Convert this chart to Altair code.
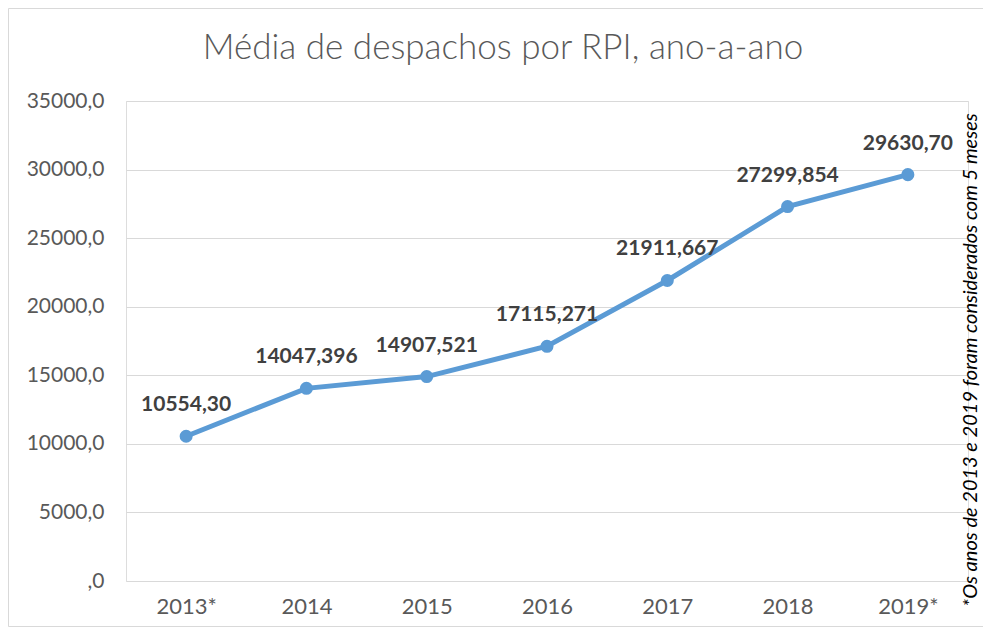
import altair as alt
import pandas as pd

anos = ["2013*", "2014", "2015", "2016", "2017", "2018", "2019*"]
valores = [10554.30, 14047.396, 14907.521, 17115.271, 21911.667, 27299.854, 29630.70]
rotulos = ["10554,30", "14047,396", "14907,521", "17115,271", "21911,667", "27299,854", "29630,70"]
titulo = "Média de despachos por RPI, ano-a-ano"
nota = "*Os anos de 2013 e 2019 foram considerados com 5 meses"

df = pd.DataFrame({"ano": anos, "valor": valores, "rotulo": rotulos})

W, H = 842, 480
PL, PT, PR, PB = 118, 93, 15, 46
FONT = "Lato"
BLUE = "#5B9BD5"

x = alt.X("ano:O", sort=anos, title=None,
          axis=alt.Axis(labelAngle=0, labelFontSize=22, labelColor="#595959",
                        labelFont=FONT, labelPadding=15, domain=False, ticks=False))
y = alt.Y("valor:Q", title=None,
          scale=alt.Scale(domain=[0, 35000], nice=False),
          axis=alt.Axis(values=[0, 5000, 10000, 15000, 20000, 25000, 30000, 35000],
                        labelExpr="datum.value == 0 ? ',0' : replace(format(datum.value, '.1f'), '.', ',')",
                        labelFontSize=21, labelColor="#595959", labelFont=FONT,
                        labelPadding=22, domain=False, ticks=False,
                        gridColor="#d9d9d9", gridWidth=1))

base = alt.Chart(df)

border = alt.Chart(pd.DataFrame({"k": [1]})).mark_rect(
    fill=None, stroke="#d9d9d9", strokeWidth=1
).encode(
    x=alt.value(-PL + 0.5), x2=alt.value(W + PR + 20),
    y=alt.value(-PT + 0.5), y2=alt.value(H + PB - 0.5)
)

line = base.mark_line(color=BLUE, strokeWidth=5).encode(x=x, y=y)
pts = base.mark_point(filled=True, color=BLUE, size=170, opacity=1).encode(x=x, y=y)
labels = base.mark_text(font=FONT, fontSize=21, fontWeight="bold", color="#404040",
                        dy=-31, baseline="middle").encode(
    x=alt.X("ano:O", sort=anos), y="valor:Q", text="rotulo:N")

title_mark = alt.Chart(pd.DataFrame({"t": [titulo]})).mark_text(
    font=FONT, fontSize=35, fontWeight=300, color="#595959", baseline="middle", align="center"
).encode(x=alt.value(377), y=alt.value(-53), text="t:N")

note_mark = alt.Chart(pd.DataFrame({"t": [nota]})).mark_text(
    font=FONT, fontSize=20, fontStyle="italic", color="#000000", baseline="middle",
    align="center", angle=270
).encode(x=alt.value(845), y=alt.value(259), text="t:N")

chart = alt.layer(border, line, pts, labels, title_mark, note_mark).properties(
    width=W, height=H,
    autosize=alt.AutoSizeParams(type="none"),
    padding={"left": PL, "top": PT, "right": PR, "bottom": PB}
).configure_view(stroke=None).configure(background="white")

chart.save("out.html", embed_options={"renderer": "svg", "actions": False})
